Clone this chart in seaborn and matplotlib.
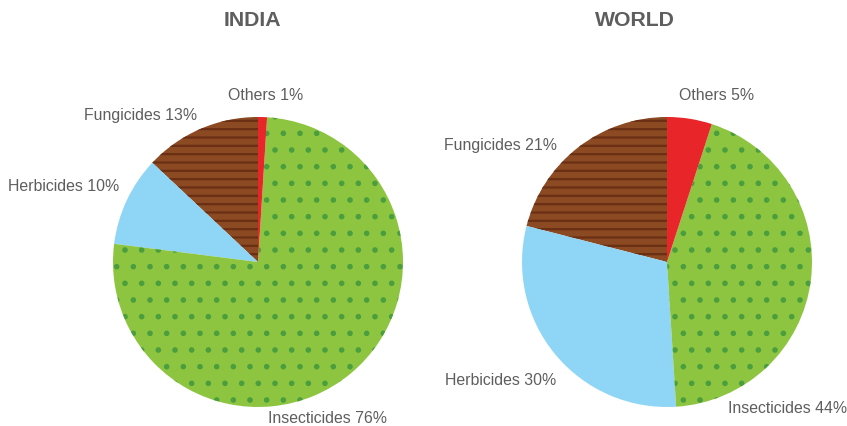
import matplotlib
matplotlib.use("Agg")
import matplotlib.pyplot as plt
import seaborn as sns

# shares in %, pie order counter-clockwise from 12 o'clock
categories = ["Fungicides", "Herbicides", "Insecticides", "Others"]
india_values = [13, 10, 76, 1]
world_values = [21, 30, 44, 5]
regions = ["INDIA", "WORLD"]

fill_colors = ["#8b4a22", "#8fd5f5", "#8dc540", "#e8262a"]
hatch_colors = ["#6a2f14", "#3db4ea", "#4a9e3e", "#e8262a"]
hatches = ["--", "", ".", ""]

# label anchor points (pie radius = 1)
india_label_pos = [(-0.81, 1.01), (-1.34, 0.52), (0.48, -1.08), (0.05, 1.15)]
world_label_pos = [(-1.15, 0.80), (-1.15, -0.82), (0.83, -1.01), (0.345, 1.15)]

sns.set_theme(style="white")
plt.rcParams['font.family'] = ['Liberation Sans', 'DejaVu Sans']
plt.rcParams['hatch.linewidth'] = 1.6

text_gray = "#5e5e5e"

fig = plt.figure(figsize=(8.47, 4.26), dpi=100)
ax_india = fig.add_axes([0.1334, 0.0446, 0.3424, 0.6808])
ax_world = fig.add_axes([0.6163, 0.0446, 0.3424, 0.6808])


def draw_pie(ax, values, label_pos):
    wedges, _ = ax.pie(values, startangle=90, counterclock=True,
                       colors=fill_colors, radius=1.0)
    for w, h, hc in zip(wedges, hatches, hatch_colors):
        w.set_hatch(h)
        w.set_edgecolor(hc)
        w.set_linewidth(0)
    for cat, val, (x, y) in zip(categories, values, label_pos):
        ax.text(x, y, f"{cat} {val}%", ha="center", va="center",
                fontsize=11.4, color=text_gray)
    ax.set_xlim(-1, 1)
    ax.set_ylim(-1, 1)
    ax.set_aspect("equal")
    ax.axis("off")


draw_pie(ax_india, india_values, india_label_pos)
draw_pie(ax_world, world_values, world_label_pos)

fig.text(252 / 847, 1 - 21 / 426, regions[0], ha="center", va="center",
         fontsize=15.3, fontweight="bold", color=text_gray)
fig.text(635 / 847, 1 - 21 / 426, regions[1], ha="center", va="center",
         fontsize=15.3, fontweight="bold", color=text_gray)

fig.savefig("out.png", dpi=100, facecolor="white")
